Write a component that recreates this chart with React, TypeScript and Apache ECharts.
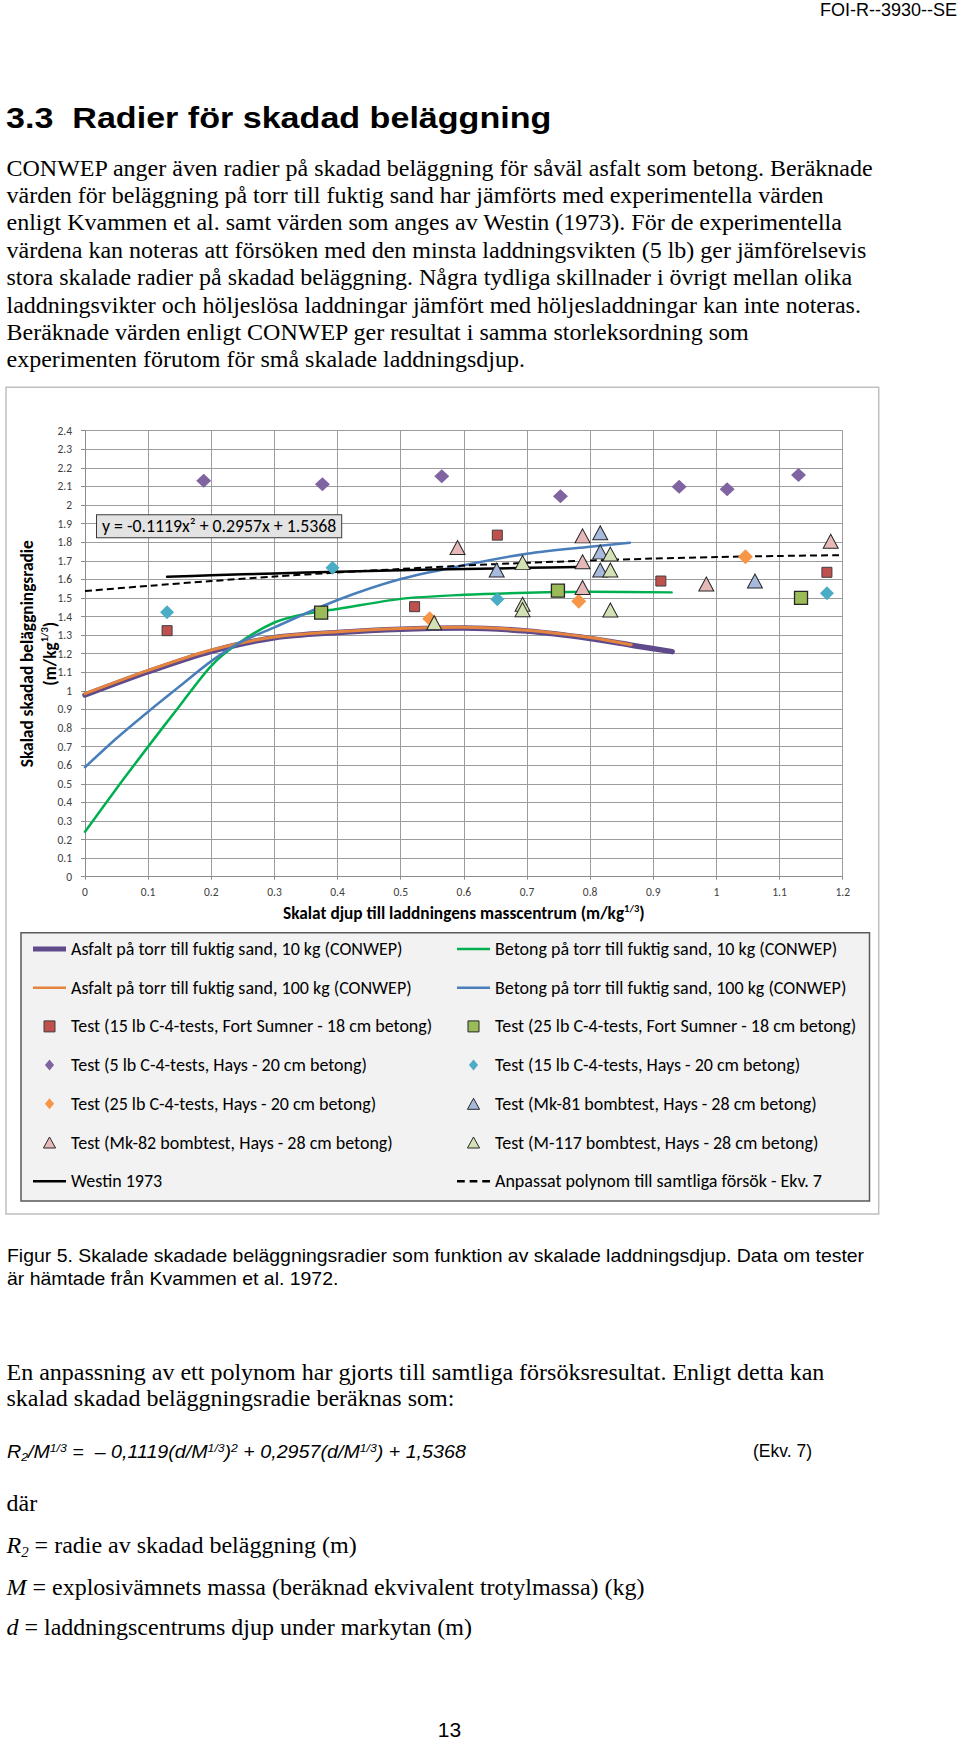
import React, { useEffect, useRef } from "react";
import * as echarts from "echarts";

// ---------------- data ----------------
const xAxisMin = 0;
const xAxisMax = 1.2;
const xAxisStep = 0.1;
const yAxisMin = 0;
const yAxisMax = 2.4;
const yAxisStep = 0.1;

const seriesNames = [
  "Asfalt på torr till fuktig sand, 10 kg (CONWEP)",
  "Asfalt på torr till fuktig sand, 100 kg (CONWEP)",
  "Betong på torr till fuktig sand, 10 kg (CONWEP)",
  "Betong på torr till fuktig sand, 100 kg (CONWEP)",
  "Test (15 lb C-4-tests, Fort Sumner - 18 cm betong)",
  "Test (25 lb C-4-tests, Fort Sumner - 18 cm betong)",
  "Test (5 lb C-4-tests, Hays - 20 cm betong)",
  "Test (15 lb C-4-tests, Hays - 20 cm betong)",
  "Test (25 lb C-4-tests, Hays - 20 cm betong)",
  "Test (Mk-81 bombtest, Hays - 28 cm betong)",
  "Test (Mk-82 bombtest, Hays - 28 cm betong)",
  "Test (M-117 bombtest, Hays - 28 cm betong)",
  "Westin 1973",
  "Anpassat polynom till samtliga försök - Ekv. 7",
];

const asfalt10kg = [
  [0, 0.978], [0.1, 1.103], [0.2, 1.213], [0.3, 1.286], [0.4, 1.314], [0.5, 1.332],
  [0.6, 1.338], [0.7, 1.322], [0.8, 1.282], [0.87, 1.243], [0.93, 1.211],
];
const asfalt100kg = [
  [0, 0.985], [0.1, 1.11], [0.2, 1.22], [0.3, 1.29], [0.4, 1.318], [0.5, 1.336],
  [0.6, 1.342], [0.7, 1.326], [0.8, 1.287], [0.865, 1.248],
];
const betong10kg = [
  [0, 0.242], [0.05, 0.475], [0.1, 0.7], [0.15, 0.92], [0.2, 1.135], [0.243, 1.256],
  [0.3, 1.368], [0.35, 1.415], [0.4, 1.44], [0.5, 1.495], [0.6, 1.517], [0.7, 1.528],
  [0.8, 1.533], [0.929, 1.53],
];
const betong100kg = [
  [0, 0.589], [0.05, 0.745], [0.1, 0.888], [0.15, 1.025], [0.2, 1.16], [0.243, 1.256],
  [0.3, 1.342], [0.4, 1.489], [0.5, 1.602], [0.6, 1.676], [0.7, 1.738], [0.8, 1.776],
  [0.863, 1.797],
];
const westin1973 = [
  [0.13, 1.614], [0.2, 1.622], [0.3, 1.632], [0.4, 1.641], [0.5, 1.649],
  [0.6, 1.656], [0.7, 1.662], [0.779, 1.666],
];
const anpassatPolynom = [
  [0, 1.537], [0.1, 1.565], [0.2, 1.591], [0.3, 1.615], [0.4, 1.637], [0.5, 1.656],
  [0.6, 1.674], [0.7, 1.689], [0.8, 1.701], [0.9, 1.712], [1.0, 1.72], [1.1, 1.726],
  [1.2, 1.73],
];

const testFortSumner15lb = [[0.13, 1.324], [0.522, 1.453], [0.653, 1.838], [0.912, 1.591], [1.175, 1.638]];
const testFortSumner25lb = [[0.374, 1.421], [0.749, 1.539], [1.134, 1.5]];
const testHays5lb = [
  [0.188, 2.131], [0.376, 2.112], [0.565, 2.155], [0.753, 2.047], [0.941, 2.099],
  [1.017, 2.085], [1.13, 2.162],
];
const testHays15lb = [[0.13, 1.423], [0.392, 1.663], [0.653, 1.493], [1.175, 1.525]];
const testHays25lb = [[0.546, 1.388], [0.782, 1.482], [1.046, 1.722]];
const testMk81 = [[0.652, 1.65], [0.816, 1.851], [0.816, 1.748], [0.816, 1.65], [1.061, 1.591]];
const testMk82 = [[0.59, 1.771], [0.788, 1.834], [0.788, 1.695], [0.788, 1.556], [0.984, 1.575], [1.181, 1.805]];
const testM117 = [
  [0.553, 1.367], [0.693, 1.69], [0.693, 1.466], [0.693, 1.437], [0.832, 1.736],
  [0.832, 1.65], [0.832, 1.435],
];

const fitEquationLabel = "y = -0.1119x² + 0.2957x + 1.5368";

// ---------------- styling ----------------
const AXIS_FONT = "Carlito, Calibri, Lato, sans-serif";
const LEGEND_FONT = "Carlito, Calibri, Lato, sans-serif";
const GRID_COLOR = "#9c9c9c";

const C = {
  purpleLine: "#5F4A8B",
  orangeLine: "#E4843F",
  greenLine: "#00B050",
  blueLine: "#4A7EBB",
  red: "#C0504D",
  green: "#9BBB59",
  purple: "#8064A2",
  cyan: "#4BACC6",
  orange: "#F79646",
  mk81: "#A7B9DC",
  mk82: "#E6B9B8",
  m117: "#D2E2B5",
};

const ICON_SQUARE = "path://M0,0L10,0L10,10L0,10Z";
const ICON_DIAMOND = "path://M5,0L10,6L5,12L0,6Z";
const ICON_TRIANGLE = "path://M5.5,0L11,10L0,10Z";
const ICON_LINE_THICK = "path://M0,0L40,0L40,6L0,6Z";
const ICON_LINE = "path://M0,0L40,0L40,3L0,3Z";
const ICON_DASH = "path://M0,0L8,0L8,2.5L0,2.5Z M13,0L21,0L21,2.5L13,2.5Z M26,0L34,0L34,2.5L26,2.5Z";

function lineSeries(name: string, data: number[][], color: string, width: number, extra: any = {}) {
  return {
    type: "line",
    name,
    data,
    smooth: 0.3,
    symbol: "none",
    lineStyle: { color, width, cap: "round", join: "round", ...(extra.lineStyle || {}) },
    itemStyle: { color },
    z: 2,
    silent: true,
  };
}

function scatterSeries(name: string, data: number[][], symbol: string, size: any, color: string, border?: string, bw = 1) {
  return {
    type: "scatter",
    name,
    data,
    symbol,
    symbolSize: size,
    itemStyle: { color, borderColor: border || color, borderWidth: border ? bw : 0, opacity: 1 },
    z: 3,
    silent: true,
  };
}

function buildOption() {
  const nameRich = {
    sup: {
      fontFamily: AXIS_FONT,
      fontWeight: "bold",
      fontSize: 10.5,
      color: "#000",
      verticalAlign: "top",
      lineHeight: 16,
    },
  };
  const legendText = { fontFamily: LEGEND_FONT, fontSize: 18, color: "#000", lineHeight: 20 };
  const lineItem = (name: string, icon: string, color: string) => ({
    name,
    icon,
    itemStyle: { color, borderWidth: 0 },
  });
  const markItem = (name: string, icon: string, color: string, border?: string) => ({
    name,
    icon,
    itemStyle: { color, borderColor: border || color, borderWidth: border ? 1 : 0 },
  });

  const legendCommon = {
    orient: "vertical",
    top: 939,
    itemGap: 18.7,
    itemWidth: 33,
    itemHeight: 11,
    padding: 0,
    selectedMode: false,
    textStyle: legendText,
    symbolKeepAspect: true,
  };

  return {
    animation: false,
    grid: { left: 85, top: 430.7, width: 757.7, height: 446, containLabel: false, outerBoundsMode: "none" },
    xAxis: {
      type: "value",
      min: xAxisMin,
      max: xAxisMax,
      interval: xAxisStep,
      axisLine: { show: true, lineStyle: { color: "#8c8c8c", width: 1 } },
      axisTick: { show: true, length: 3, lineStyle: { color: "#8c8c8c" } },
      splitLine: { show: true, lineStyle: { color: GRID_COLOR, width: 1 } },
      axisLabel: { color: "#404040", fontSize: 11.5, fontFamily: AXIS_FONT, margin: 9 },
      name: "Skalat djup till laddningens masscentrum (m/kg{sup|1/3})",
      nameLocation: "middle",
      nameGap: 26,
      nameTextStyle: {
        fontFamily: AXIS_FONT,
        fontWeight: "bold",
        fontSize: 17.3,
        color: "#000",
        lineHeight: 22,
        rich: nameRich,
      },
    },
    yAxis: {
      type: "value",
      min: yAxisMin,
      max: yAxisMax,
      interval: yAxisStep,
      axisLine: { show: true, lineStyle: { color: "#8c8c8c", width: 1 } },
      axisTick: { show: true, length: 4, lineStyle: { color: "#8c8c8c" } },
      splitLine: { show: true, lineStyle: { color: GRID_COLOR, width: 1 } },
      axisLabel: { color: "#404040", fontSize: 11.5, fontFamily: AXIS_FONT, margin: 13 },
      name: "Skalad skadad beläggningsradie\n(m/kg{sup|1/3})",
      nameLocation: "middle",
      nameRotate: 90,
      nameMoveOverlap: false,
      nameGap: 23,
      nameTextStyle: {
        fontFamily: AXIS_FONT,
        fontWeight: "bold",
        fontSize: 17.3,
        color: "#000",
        lineHeight: 23,
        rich: nameRich,
      },
    },
    legend: [
      {
        ...legendCommon,
        left: 33,
        data: [
          lineItem(seriesNames[0], ICON_LINE_THICK, C.purpleLine),
          lineItem(seriesNames[1], ICON_LINE, C.orangeLine),
          markItem(seriesNames[4], ICON_SQUARE, C.red, "#3f3f3f"),
          markItem(seriesNames[6], ICON_DIAMOND, C.purple),
          markItem(seriesNames[8], ICON_DIAMOND, C.orange),
          markItem(seriesNames[10], ICON_TRIANGLE, C.mk82, "#262626"),
          lineItem(seriesNames[12], ICON_LINE, "#000000"),
        ],
      },
      {
        ...legendCommon,
        left: 457,
        data: [
          lineItem(seriesNames[2], ICON_LINE, C.greenLine),
          lineItem(seriesNames[3], ICON_LINE, C.blueLine),
          markItem(seriesNames[5], ICON_SQUARE, C.green, "#262626"),
          markItem(seriesNames[7], ICON_DIAMOND, C.cyan),
          markItem(seriesNames[9], ICON_TRIANGLE, C.mk81, "#262626"),
          markItem(seriesNames[11], ICON_TRIANGLE, C.m117, "#262626"),
          lineItem(seriesNames[13], ICON_DASH, "#000000"),
        ],
      },
    ],
    graphic: [
      {
        type: "rect",
        z: -10,
        shape: { x: 6, y: 387.3, width: 872.7, height: 826.7 },
        style: { fill: "#ffffff", stroke: "#bfbfbf", lineWidth: 1.5 },
        silent: true,
      },
      {
        type: "rect",
        z: -5,
        shape: { x: 21, y: 932.7, width: 848.5, height: 268.3 },
        style: { fill: "#f2f2f2", stroke: "#5a5a5a", lineWidth: 1.5 },
        silent: true,
      },
      {
        type: "text",
        z: 10,
        x: 97,
        y: 526.2,
        style: {
          text: fitEquationLabel,
          fontFamily: AXIS_FONT,
          fontSize: 17.8,
          fill: "#000",
          verticalAlign: "middle",
          align: "left",
          backgroundColor: "#e3e3e3",
          borderColor: "#3b3b3b",
          borderWidth: 1,
          padding: [2, 5, 2, 5],
        },
        silent: true,
      },
    ],
    series: [
      lineSeries(seriesNames[0], asfalt10kg, C.purpleLine, 5.5),
      lineSeries(seriesNames[1], asfalt100kg, C.orangeLine, 3),
      lineSeries(seriesNames[2], betong10kg, C.greenLine, 2.5),
      lineSeries(seriesNames[3], betong100kg, C.blueLine, 2.5),
      lineSeries(seriesNames[12], westin1973, "#000000", 2.5),
      lineSeries(seriesNames[13], anpassatPolynom, "#000000", 2, { lineStyle: { type: [7, 4], cap: "butt" } }),
      scatterSeries(seriesNames[4], testFortSumner15lb, "rect", 10, C.red, "#3f3f3f", 1),
      scatterSeries(seriesNames[5], testFortSumner25lb, "rect", 13, C.green, "#262626", 1.3),
      scatterSeries(seriesNames[6], testHays5lb, "diamond", [15, 14], C.purple),
      scatterSeries(seriesNames[7], testHays15lb, "diamond", [14, 14], C.cyan),
      scatterSeries(seriesNames[8], testHays25lb, "diamond", [15, 15], C.orange),
      scatterSeries(seriesNames[9], testMk81, "triangle", [15, 14], C.mk81, "#262626", 1),
      scatterSeries(seriesNames[10], testMk82, "triangle", [15, 14], C.mk82, "#262626", 1),
      scatterSeries(seriesNames[11], testM117, "triangle", [15, 14], C.m117, "#262626", 1),
    ],
  };
}

// ---------------- page text ----------------
const SERIF = "'Liberation Serif', 'Times New Roman', serif";
const SANS = "'Liberation Sans', Arial, sans-serif";

const paragraphLines = [
  "CONWEP anger även radier på skadad beläggning för såväl asfalt som betong. Beräknade",
  "värden för beläggning på torr till fuktig sand har jämförts med experimentella värden",
  "enligt Kvammen et al. samt värden som anges av Westin (1973). För de experimentella",
  "värdena kan noteras att försöken med den minsta laddningsvikten (5 lb) ger jämförelsevis",
  "stora skalade radier på skadad beläggning. Några tydliga skillnader i övrigt mellan olika",
  "laddningsvikter och höljeslösa laddningar jämfört med höljesladdningar kan inte noteras.",
  "Beräknade värden enligt CONWEP ger resultat i samma storleksordning som",
  "experimenten förutom för små skalade laddningsdjup.",
];
const captionLines = [
  "Figur 5. Skalade skadade beläggningsradier som funktion av skalade laddningsdjup. Data om tester",
  "är hämtade från Kvammen et al. 1972.",
];
const fitLines = [
  "En anpassning av ett polynom har gjorts till samtliga försöksresultat. Enligt detta kan",
  "skalad skadad beläggningsradie beräknas som:",
];

function T(props: {
  x?: number;
  right?: number;
  baseline: number;
  size: number;
  family: string;
  weight?: any;
  italic?: boolean;
  center?: boolean;
  sx?: number;
  children: any;
}) {
  const asc = props.family === SERIF ? 0.891 : 0.905;
  const desc = props.family === SERIF ? 0.216 : 0.212;
  const lh = props.size * (asc + desc);
  const style: any = {
    position: "absolute",
    top: props.baseline - props.size * asc,
    fontFamily: props.family,
    fontSize: props.size,
    lineHeight: `${lh}px`,
    fontWeight: props.weight || "normal",
    fontStyle: props.italic ? "italic" : "normal",
    whiteSpace: "nowrap",
    color: "#000",
    margin: 0,
  };
  if (props.right !== undefined) style.right = props.right;
  else if (props.center) {
    style.left = props.x;
    style.transform = "translateX(-50%)";
  } else style.left = props.x;
  if (props.sx) {
    style.transform = `scaleX(${props.sx})`;
    style.transformOrigin = "left center";
  }
  return <div style={style}>{props.children}</div>;
}

const supStyle: any = { fontSize: "0.62em", verticalAlign: "0.55em", lineHeight: 0 };
const subStyle: any = { fontSize: "0.62em", verticalAlign: "-0.25em", lineHeight: 0 };

export default function App() {
  const ref = useRef<HTMLDivElement>(null);
  useEffect(() => {
    if (!ref.current) return;
    const chart = echarts.init(ref.current, undefined, { renderer: "svg" });
    chart.setOption(buildOption() as any);
    return () => chart.dispose();
  }, []);

  return (
    <div
      style={{
        position: "absolute",
        left: 0,
        top: 0,
        width: 960,
        height: 1740,
        background: "#fff",
        overflow: "hidden",
      }}
    >
      <div ref={ref} style={{ position: "absolute", left: 0, top: 0, width: 960, height: 1740 }} />

      <T right={3} baseline={16.5} size={18} family={SANS}>
        FOI-R--3930--SE
      </T>
      <T x={6} baseline={128.3} size={29} family={SANS} weight="bold" sx={1.175}>
        3.3&nbsp;&nbsp;Radier för skadad beläggning
      </T>
      {paragraphLines.map((l, i) => (
        <T key={"p" + i} x={6.5} baseline={176 + i * 27.4} size={24} family={SERIF}>
          {l}
        </T>
      ))}
      {captionLines.map((l, i) => (
        <T key={"c" + i} x={7} baseline={1261.7 + i * 23.3} size={19} family={SANS} sx={1.022}>
          {l}
        </T>
      ))}
      {fitLines.map((l, i) => (
        <T key={"f" + i} x={6.5} baseline={1380 + i * 26.7} size={24} family={SERIF}>
          {l}
        </T>
      ))}
      <T x={7} baseline={1458} size={19} family={SANS} italic sx={1.035}>
        R<span style={subStyle}>2</span>/M<span style={supStyle}>1/3</span> = &nbsp;– 0,1119(d/M
        <span style={supStyle}>1/3</span>)<span style={supStyle}>2</span> + 0,2957(d/M
        <span style={supStyle}>1/3</span>) + 1,5368
      </T>
      <T x={753} baseline={1458} size={17.5} family={SANS}>
        (Ekv. 7)
      </T>
      <T x={6.5} baseline={1511.7} size={24} family={SERIF}>
        där
      </T>
      <T x={6.5} baseline={1553.3} size={24} family={SERIF}>
        <i>R</i>
        <span style={{ ...subStyle, fontStyle: "italic" }}>2</span> = radie av skadad beläggning (m)
      </T>
      <T x={6.5} baseline={1595} size={24} family={SERIF}>
        <i>M</i> = explosivämnets massa (beräknad ekvivalent trotylmassa) (kg)
      </T>
      <T x={6.5} baseline={1635} size={24} family={SERIF}>
        <i>d</i> = laddningscentrums djup under markytan (m)
      </T>
      <T x={449.5} center baseline={1737} size={21} family={SANS}>
        13
      </T>
    </div>
  );
}
